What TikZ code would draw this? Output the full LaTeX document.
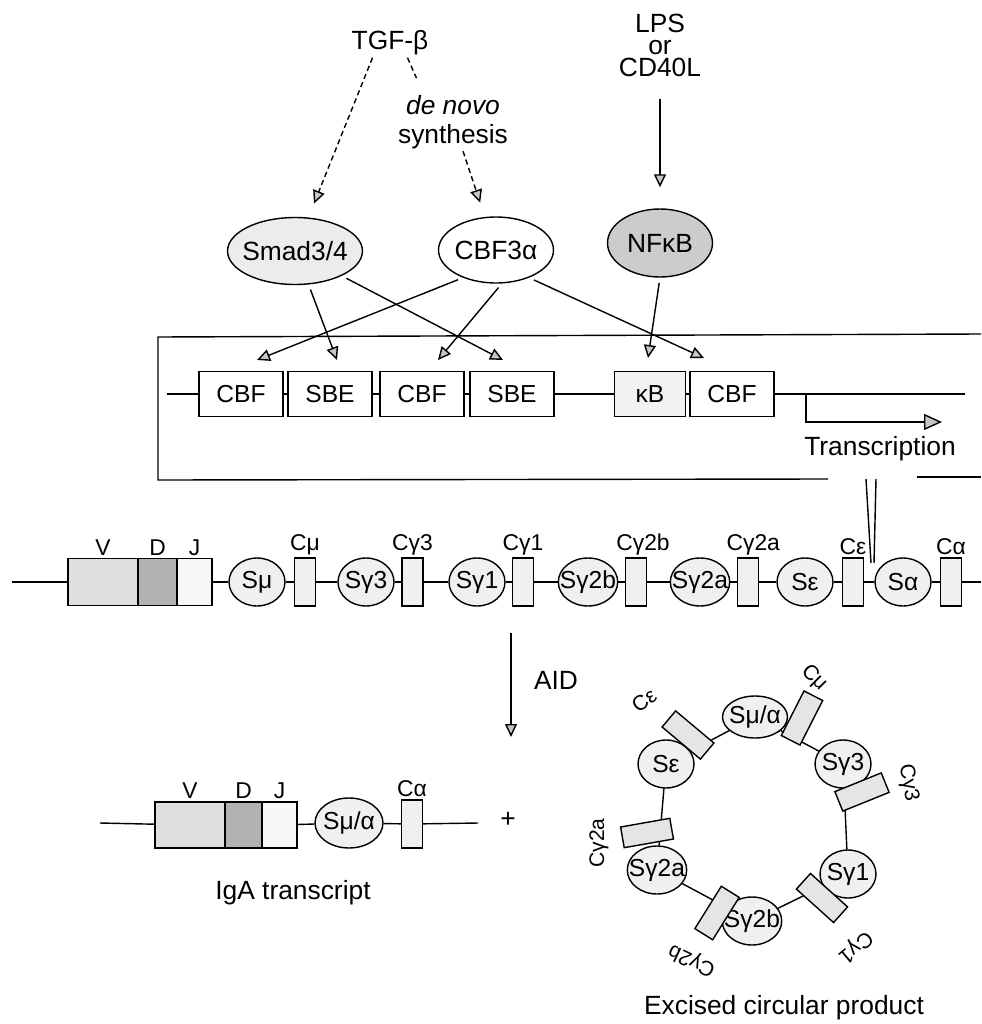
\documentclass[tikz,border=0pt]{standalone}
\usepackage{fontspec}
\setmainfont{Liberation Sans}
\usepackage{xcolor}
\usepackage{tikz}
\usetikzlibrary{positioning, arrows.meta, shapes.geometric, calc}

\tikzset{
  sig/.style={-{Triangle[length=2.6mm, width=2.4mm, fill=gray!45]}},
  dsig/.style={sig, densely dashed},
  lbl/.style={font=\fontsize{15}{16.5}\selectfont, inner sep=1pt},
  tf/.style={ellipse, draw, inner xsep=-4pt, inner ysep=0pt, font=\fontsize{15}{17}\selectfont},
  site/.style={draw, fill=white, minimum width=1.68cm, minimum height=0.9cm, inner sep=0pt, font=\fontsize{14}{16}\selectfont},
  sreg/.style={ellipse, draw, fill=gray!12, minimum width=1.12cm, minimum height=0.96cm, inner xsep=-4pt, inner ysep=0pt, font=\fontsize{14}{16}\selectfont},
  cgene/.style={draw, fill=gray!12, minimum width=0.42cm, minimum height=0.96cm, inner sep=0pt},
  seg/.style={draw, minimum height=0.94cm, inner sep=0pt},
  glab/.style={font=\fontsize{13}{15}\selectfont, inner sep=1pt},
  cring/.style={draw, fill=gray!20, minimum width=1cm, minimum height=0.42cm, inner sep=0pt},
  rlab/.style={font=\fontsize{12}{14}\selectfont, inner sep=0pt}
}

\begin{document}
\begin{tikzpicture}[x=0.02cm, y=-0.02cm, line width=0.8pt]
  \useasboundingbox (0,0) rectangle (981,1024);

  \node[lbl] (tgf) at (390,43) {TGF-β};
  \node[lbl, align=center] (denovo) at (453,122) {\textit{de novo}\\synthesis};
  \node[lbl, align=center, font=\fontsize{15}{12.5}\selectfont] (lps) at (660,45) {LPS\\or\\CD40L};

  \node[tf, fill=gray!15, minimum width=2.7cm, minimum height=1.34cm] (smad) at (295,251) {Smad3/4};
  \node[tf, fill=white, minimum width=2.3cm, minimum height=1.32cm] (cbf3a) at (496,250) {CBF3α};
  \node[tf, fill=gray!40, minimum width=2.1cm, minimum height=1.36cm] (nfkb) at (660,243) {NFκB};

  \draw[dsig, shorten >=0.3cm] ([xshift=-0.35cm]tgf.south) -- (smad);
  \draw[densely dashed, shorten >=0.32cm] ([xshift=0.35cm]tgf.south) -- ([xshift=-0.6cm]denovo.north);
  \draw[dsig, shorten >=0.3cm] ([xshift=0.2cm]denovo.south) -- (cbf3a);
  \draw[sig, shorten <=0.4cm, shorten >=0.42cm] (lps) -- (nfkb);

  \draw (981,334) -- (158,337) -- (158,480) -- (828,479);
  \draw (917,477) -- (981,477);
  \draw (866,479) -- (871,563);
  \draw (876,479) -- (874,563);

  \node[site] (cbf1) at (241,394) {CBF};
  \node[site] (sbe1) at (330,394) {SBE};
  \node[site] (cbf2) at (422,394) {CBF};
  \node[site] (sbe2) at (512,394) {SBE};
  \node[site, fill=gray!10, minimum width=1.42cm] (kb) at (650,394) {κB};
  \node[site] (cbf3) at (732,394) {CBF};
  \coordinate (pstart) at (167,394);
  \coordinate (pend) at (965,394);
  \coordinate (tss) at (806,394);
  \coordinate (tsend) at (942,422);
  \draw (pstart) -- (cbf1) -- (sbe1) -- (cbf2) -- (sbe2) -- (kb) -- (cbf3) -- (pend);
  \draw[-{Triangle[length=3.6mm, width=3.2mm, fill=gray!45]}] (tss) |- (tsend);
  \node[lbl] (txn) at (880,449) {Transcription};

  \coordinate (tcbf1) at (257,360);
  \coordinate (tsbe1) at (337,360);
  \coordinate (tcbf2) at (438,360);
  \coordinate (tsbe2) at (503,360);
  \coordinate (tkb) at (648,358);
  \coordinate (tcbf3) at (704,358);
  \draw[sig, shorten <=3pt] (smad.-68) -- (tsbe1);
  \draw[sig, shorten <=3pt] (smad.-28) -- (tsbe2);
  \draw[sig, shorten <=3pt] (cbf3a.220) -- (tcbf1);
  \draw[sig, shorten <=3pt] (cbf3a.-80) -- (tcbf2);
  \draw[sig, shorten <=3pt] (cbf3a.-40) -- (tcbf3);
  \draw[sig, shorten <=3pt] (nfkb.south) -- (tkb);

  \coordinate (gstart) at (12,582);
  \node[seg, fill=gray!25, minimum width=1.4cm, label={[glab]above:V}] (v) at (103,582) {};
  \node[seg, fill=gray!60, minimum width=0.78cm, label={[glab]above:D}] (d) at (157.5,582) {};
  \node[seg, fill=gray!6, minimum width=0.7cm, label={[glab]above:J}] (j) at (194.5,582) {};
  \node[sreg] (smu) at (257,582) {Sμ};
  \node[cgene, label={[glab]above:Cμ}] (cmu) at (305,582) {};
  \node[sreg] (sg3) at (366,582) {Sγ3};
  \node[cgene, label={[glab]above:Cγ3}] (cg3) at (412.5,582) {};
  \node[sreg] (sg1) at (477,582) {Sγ1};
  \node[cgene, label={[glab]above:Cγ1}] (cg1) at (523,582) {};
  \node[sreg] (sg2b) at (588,582) {Sγ2b};
  \node[cgene, label={[glab, xshift=4pt]above:Cγ2b}] (cg2b) at (636,582) {};
  \node[sreg] (sg2a) at (700,582) {Sγ2a};
  \node[cgene, label={[glab, xshift=3pt]above:Cγ2a}] (cg2a) at (748,582) {};
  \node[sreg] (seps) at (805,582) {Sε};
  \node[cgene, label={[glab]above:Cε}] (ceps) at (853,582) {};
  \node[sreg] (salpha) at (903,582) {Sα};
  \node[cgene, label={[glab]above:Cα}] (calpha) at (951,582) {};
  \coordinate (gend) at (981,582);
  \draw (gstart) -- (v);
  \draw (j) -- (smu) -- (cmu) -- (sg3) -- (cg3) -- (sg1) -- (cg1) -- (sg2b) -- (cg2b)
    -- (sg2a) -- (cg2a) -- (seps) -- (ceps) -- (salpha) -- (calpha) -- (gend);

  \coordinate (aidtop) at (511,633);
  \coordinate (aidbot) at (511,737);
  \draw[sig] (aidtop) -- (aidbot);
  \node[lbl] (aid) at (556,680) {AID};

  \coordinate (istart) at (100,823);
  \node[seg, fill=gray!25, minimum width=1.4cm, minimum height=0.92cm, label={[glab]above:V}] (v2) at (190,825) {};
  \node[seg, fill=gray!60, minimum width=0.74cm, minimum height=0.92cm, label={[glab]above:D}] (d2) at (243.5,825) {};
  \node[seg, fill=gray!6, minimum width=0.7cm, minimum height=0.92cm, label={[glab]above:J}] (j2) at (279.5,825) {};
  \node[sreg, minimum width=1.36cm, minimum height=1cm] (smua) at (349,823) {Sμ/α};
  \node[cgene, label={[glab]above:Cα}] (ca2) at (412,824) {};
  \coordinate (iend) at (478,823);
  \draw (istart) -- (v2);
  \draw (j2) -- (smua) -- (ca2) -- (iend);
  \node[lbl] (plus) at (508,820) {+};
  \node[lbl] (iga) at (293,893) {IgA transcript};

  \node[sreg, minimum width=1.3cm, minimum height=0.84cm] (rsmua) at (755,717) {Sμ/α};
  \node[sreg] (rseps) at (666,764) {Sε};
  \node[sreg] (rsg3) at (843,764) {Sγ3};
  \node[sreg] (rsg1) at (848,874) {Sγ1};
  \node[sreg] (rsg2b) at (752,921) {Sγ2b};
  \node[sreg] (rsg2a) at (657,870) {Sγ2a};
  \draw (rseps) -- (rsmua) -- (rsg3) -- (rsg1) -- (rsg2b) -- (rsg2a) -- (rseps);
  \node[cring, rotate=-40] (rceps) at (688,735) {};
  \node[cring, rotate=63] (rcmu) at (802,718) {};
  \node[cring, rotate=22] (rcg3) at (862,792) {};
  \node[cring, rotate=-42] (rcg1) at (822,898) {};
  \node[cring, rotate=58] (rcg2b) at (717,913) {};
  \node[cring, rotate=10] (rcg2a) at (647,833) {};
  \node[rlab, rotate=35] (lceps) at (644,700) {Cε};
  \node[rlab, rotate=-45] (lcmu) at (814,678) {Cμ};
  \node[rlab, rotate=-80] (lcg3) at (908,783) {Cγ3};
  \node[rlab, rotate=-140] (lcg1) at (855,947) {Cγ1};
  \node[rlab, rotate=155] (lcg2b) at (692,960) {Cγ2b};
  \node[rlab, rotate=90] (lcg2a) at (599,843) {Cγ2a};
  \node[lbl] (excised) at (784,1008) {Excised circular product};
\end{tikzpicture}
\end{document}
